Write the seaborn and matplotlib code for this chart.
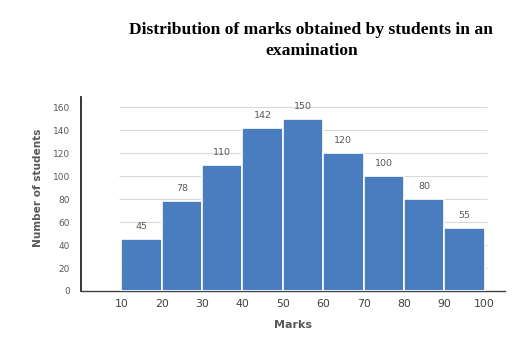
import matplotlib
matplotlib.use("Agg")
import matplotlib.pyplot as plt
import seaborn as sns
import pandas as pd
import numpy as np

intervals = ["10-20", "20-30", "30-40", "40-50", "50-60", "60-70", "70-80", "80-90", "90-100"]
students = [45, 78, 110, 142, 150, 120, 100, 80, 55]
edge_labels = ["10", "20", "30", "40", "50", "60", "70", "80", "90", "100"]
yticks = [0, 20, 40, 60, 80, 100, 120, 140, 160]

df = pd.DataFrame({"interval": intervals, "students": students})

sns.set_style("white")
plt.rcParams['font.family'] = ['DejaVu Sans']

fig = plt.figure(figsize=(5.13, 3.37), dpi=100)
ax = fig.add_axes([0.158, 0.1365, 0.826, 0.5755])

sns.barplot(data=df, x="interval", y="students", color="#4a7dbf", saturation=1,
            width=1.0, edgecolor="white", linewidth=1.2, ax=ax, zorder=3)

ax.set_xlim(-1.5, 9.0)
ax.set_ylim(0, 169)

# gridlines
ax.hlines(yticks[1:], -0.55, 8.55, colors="#d9d9d9", linewidth=0.8, zorder=1)

# value labels
for i, v in enumerate(students):
    ax.text(i, v + 7, str(v), ha="center", va="bottom", fontsize=6.8, color="#595959")

ax.set_xticks(np.arange(len(edge_labels)) - 0.5)
ax.set_xticklabels(edge_labels, fontsize=7.8, color="#404040")
ax.tick_params(axis="both", length=0)
ax.tick_params(axis="x", pad=6)
ax.tick_params(axis="y", pad=8)
ax.set_yticks(yticks)
ax.set_yticklabels([str(t) for t in yticks], fontsize=6.5, color="#595959")

for s in ["top", "right"]:
    ax.spines[s].set_visible(False)
ax.spines["left"].set_color("#262626")
ax.spines["left"].set_linewidth(1.3)
ax.spines["bottom"].set_color("#404040")
ax.spines["bottom"].set_linewidth(1.0)

ax.set_xlabel("Marks", fontsize=8, fontweight="bold", color="#595959", labelpad=8)
ax.set_ylabel("Number of students", fontsize=7.6, fontweight="bold", color="#595959", labelpad=5)
ax.yaxis.set_label_coords(-0.09, 0.53)

fig.text(0.607, 0.91, "Distribution of marks obtained by students in an", ha="center", va="center",
         fontsize=12.6, fontweight="bold", family="Liberation Serif", color="black")
fig.text(0.607, 0.85, "examination", ha="center", va="center",
         fontsize=12.6, fontweight="bold", family="Liberation Serif", color="black")

fig.savefig("out.png", dpi=100)
